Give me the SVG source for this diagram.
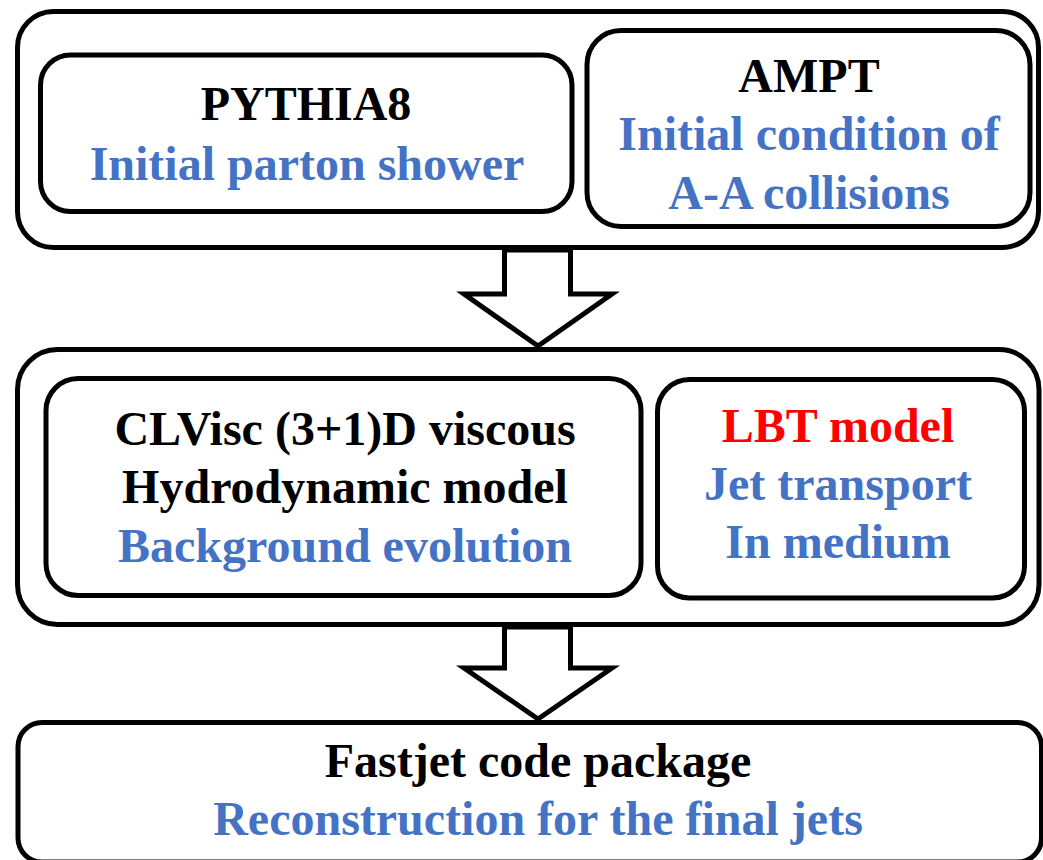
<svg xmlns="http://www.w3.org/2000/svg" width="1043" height="860" viewBox="0 0 1043 860">
  <style>
    .box { fill: #ffffff; stroke: #000000; stroke-width: 5; }
    .arrow { fill: #ffffff; stroke: #000000; stroke-width: 5; stroke-linejoin: miter; }
    text { font-family: "Liberation Serif", "Times New Roman", serif; font-weight: bold; font-size: 48px; text-anchor: middle; }
    .title { fill: #000000; }
    .desc { fill: #4472C4; }
    .hot { fill: #FF0000; }
  </style>
  <rect width="1043" height="860" fill="#ffffff"/>

  <!-- Stage 1: initial state -->
  <g id="stage-initial">
    <rect class="box" x="17.5" y="11.5" width="1021" height="236" rx="36" ry="36"/>
  </g>
  <g id="pythia8">
    <rect class="box" x="40.5" y="55" width="531.5" height="156.5" rx="30" ry="30"/>
    <text class="title" x="306" y="120">PYTHIA8</text>
    <text class="desc" x="307" y="180">Initial parton shower</text>
  </g>
  <g id="ampt">
    <rect class="box" x="587" y="30.5" width="443" height="196" rx="34" ry="34"/>
    <text class="title" x="809" y="92">AMPT</text>
    <text class="desc" x="809" y="150">Initial condition of</text>
    <text class="desc" x="809" y="209">A-A collisions</text>
  </g>

  <!-- Stage 2: medium evolution -->
  <g id="stage-medium">
    <rect class="box" x="17.5" y="349.5" width="1021.5" height="275" rx="40" ry="40"/>
  </g>
  <g id="clvisc">
    <rect class="box" x="46" y="378.5" width="595" height="217" rx="32" ry="32"/>
    <text class="title" x="345" y="445">CLVisc (3+1)D viscous</text>
    <text class="title" x="345" y="503">Hydrodynamic model</text>
    <text class="desc" x="345" y="562">Background evolution</text>
  </g>
  <g id="lbt">
    <rect class="box" x="657.5" y="379.5" width="367" height="218.5" rx="32" ry="32"/>
    <text class="hot" x="838" y="442">LBT model</text>
    <text class="desc" x="838" y="500">Jet transport</text>
    <text class="desc" x="838" y="558">In medium</text>
  </g>

  <!-- Stage 3: jet reconstruction (bottom edge runs off the canvas) -->
  <g id="fastjet">
    <rect class="box" x="18" y="722.5" width="1023.5" height="139.5" rx="24" ry="24"/>
    <text class="title" x="538" y="777">Fastjet code package</text>
    <text class="desc" x="538" y="835">Reconstruction for the final jets</text>
  </g>

  <!-- Block arrows between stages -->
  <g id="connectors">
    <polygon class="arrow" points="504.5,250 504.5,294 464,294 538,346 612,294 570.5,294 570.5,250"/>
    <polygon class="arrow" points="504.5,627 504.5,668 464,668 538,719 612,668 570.5,668 570.5,627"/>
  </g>
</svg>
